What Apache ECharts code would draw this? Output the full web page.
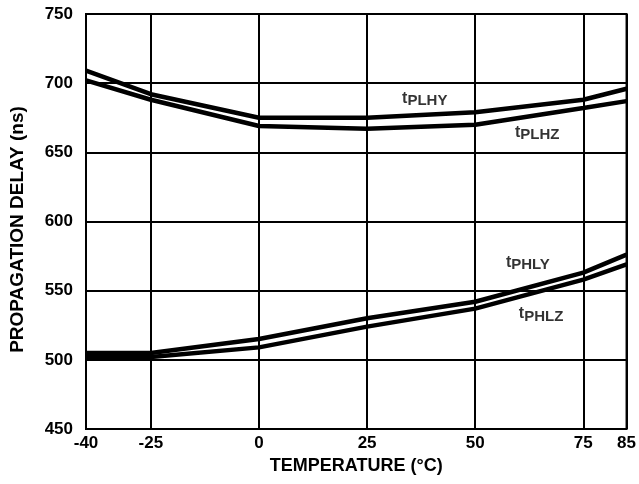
<!DOCTYPE html>
<html><head><meta charset="utf-8">
<script src="https://cdn.jsdelivr.net/npm/echarts@6/dist/echarts.min.js"></script>
<style>html,body{margin:0;padding:0;background:#fff}#c{width:639px;height:484px}</style>
</head><body><div id="c"></div>
<script>
var temps = [-40, -25, 0, 25, 50, 75, 85];
var xTicks = [-40, -25, 0, 25, 50, 75, 85];
var tPLHY = [709, 692, 675, 675, 679, 688, 696];
var tPLHZ = [702, 688, 669, 667, 670, 682, 687];
var tPHLY = [505, 505, 515, 530, 542, 563, 576];
var tPHLZ = [502, 502, 509, 524, 537, 558, 569];
var labelNames = ['PLHY', 'PLHZ', 'PHLY', 'PHLZ'];
var labelPos = [[33.1, 688], [59.2, 663.5], [57.1, 569.5], [60.1, 532.5]];

function pairs(ys){ return temps.map(function(t,i){ return [t, ys[i]]; }); }
var font = 'Liberation Sans, Arial, sans-serif';
function lineSeries(ys){
  return { type:'line', data: pairs(ys), symbol:'none', silent:true,
    lineStyle:{ color:'#000', width:4.5 }, z:3 };
}
var chart = echarts.init(document.getElementById('c'));
chart.setOption({
  animation:false,
  grid:{ left:85, right:12, top:14, bottom:55, show:true, borderColor:'#000', borderWidth:2 },
  xAxis:{ type:'value', min:-40, max:85,
    name:'TEMPERATURE (°C)', nameLocation:'middle', nameGap:26,
    nameTextStyle:{ color:'#000', fontFamily:font, fontWeight:'bold', fontSize:18 },
    axisLine:{ show:false }, axisTick:{ show:false, customValues:xTicks },
    axisLabel:{ customValues:xTicks, color:'#000', fontFamily:font, fontWeight:'bold', fontSize:17, margin:6 },
    splitLine:{ show:true, lineStyle:{ color:'#000', width:2 } } },
  yAxis:{ type:'value', min:450, max:750, interval:50,
    name:'PROPAGATION DELAY (ns)', nameLocation:'middle', nameGap:59,
    nameTextStyle:{ color:'#000', fontFamily:font, fontWeight:'bold', fontSize:19, padding:[0,16,0,0] },
    axisLine:{ show:false }, axisTick:{ show:false },
    axisLabel:{ color:'#000', fontFamily:font, fontWeight:'bold', fontSize:17, margin:13 },
    splitLine:{ show:true, lineStyle:{ color:'#000', width:2 } } },
  series:[ lineSeries(tPLHY), lineSeries(tPLHZ), lineSeries(tPHLY), lineSeries(tPHLZ),
    { type:'scatter', symbolSize:0, silent:true, z:5,
      data: labelPos.map(function(p,i){ return { value:p, name:labelNames[i] }; }),
      label:{ show:true, position:[0,0], align:'left', verticalAlign:'middle',
        formatter:function(p){ return '{t|t}{s|' + p.name + '}'; },
        rich:{ t:{ fontFamily:font, fontWeight:'bold', fontSize:16, lineHeight:18, color:'#000', verticalAlign:'top' },
               s:{ fontFamily:font, fontWeight:'bold', fontSize:15, lineHeight:18, color:'#000', verticalAlign:'bottom', padding:[5,0,0,0] } } } }
  ]
});
</script></body></html>
